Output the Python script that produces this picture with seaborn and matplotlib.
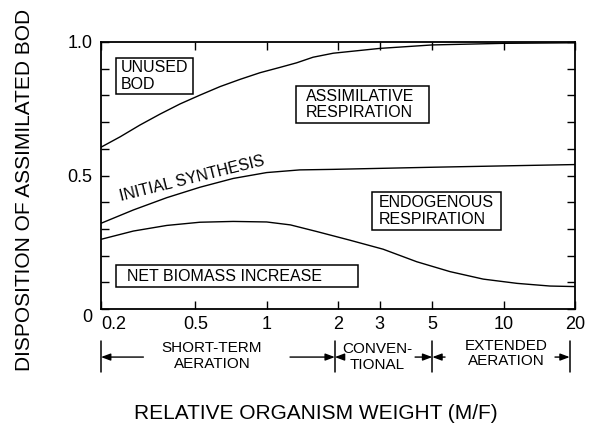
import matplotlib
matplotlib.use('Agg')
import matplotlib.pyplot as plt
import matplotlib.patches as mpatches
import seaborn as sns
import numpy as np

# curve data (x = relative organism weight M/F)
unused_x = [0.2, 0.241, 0.292, 0.355, 0.431, 0.523, 0.636, 0.772, 0.938, 1.139, 1.338, 1.57, 1.91, 3, 5, 10, 20]
unused_y = [0.606, 0.645, 0.689, 0.730, 0.768, 0.801, 0.833, 0.860, 0.885, 0.905, 0.922, 0.943, 0.958, 0.976, 0.989, 0.995, 0.997]

synth_x = [0.2, 0.274, 0.379, 0.523, 0.723, 1.0, 1.38, 1.91, 5.04, 10, 20]
synth_y = [0.321, 0.371, 0.417, 0.456, 0.489, 0.511, 0.521, 0.523, 0.531, 0.536, 0.541]

biomass_x = [0.2, 0.274, 0.379, 0.523, 0.723, 1.0, 1.26, 1.63, 2.24, 3.1, 4.3, 5.94, 8.2, 11.4, 15.7, 20]
biomass_y = [0.261, 0.292, 0.313, 0.325, 0.328, 0.326, 0.315, 0.29, 0.258, 0.224, 0.177, 0.140, 0.112, 0.096, 0.086, 0.084]

xticks = [0.2, 0.5, 1, 2, 3, 5, 10, 20]
xtick_labels = ['0.2', '0.5', '1', '2', '3', '5', '10', '20']
yticks = [0, 0.1, 0.2, 0.3, 0.4, 0.5, 0.6, 0.7, 0.8, 0.9, 1.0]
ytick_labels = ['0', '', '', '', '', '0.5', '', '', '', '', '1.0']

regimes = ['SHORT-TERM\nAERATION', 'CONVEN-\nTIONAL', 'EXTENDED\nAERATION']

sns.set_theme(style='ticks')
plt.rcParams['font.family'] = ['Liberation Sans', 'DejaVu Sans']

fig = plt.figure(figsize=(5.99, 4.29), dpi=100)
ax = fig.add_axes([0.1686, 0.2797, 0.7913, 0.6224])

for xs, ys in [(unused_x, unused_y), (synth_x, synth_y), (biomass_x, biomass_y)]:
    sns.lineplot(x=xs, y=ys, ax=ax, color='black', lw=1.0, sort=False)

ax.set_xscale('log')
ax.set_xlim(0.2, 20)
ax.set_ylim(0, 1)
ax.set_xticks(xticks)
ax.set_xticklabels(xtick_labels)
ax.minorticks_off()
ax.set_yticks(yticks)
ax.set_yticklabels(ytick_labels)
ax.tick_params(axis='both', direction='in', length=6, width=1, color='black',
               labelcolor='black', top=True, right=True)
ax.tick_params(axis='x', labelsize=13, pad=5)
ax.tick_params(axis='y', labelsize=13, pad=6)
for s in ax.spines.values():
    s.set_visible(True)
    s.set_color('black')
    s.set_linewidth(1.3)

xl = ax.get_xticklabels()
xl[0].set_ha('left')
yl = ax.get_yticklabels()
yl[0].set_va('top')

ax.set_xlabel('RELATIVE ORGANISM WEIGHT (M/F)', fontsize=15, color='black')
ax.set_ylabel('DISPOSITION OF ASSIMILATED BOD', fontsize=15, color='black')
ax.xaxis.set_label_coords(0.4536, -0.3895)
ax.xaxis.label.set_va('center')
ax.yaxis.set_label_coords(-0.162, 0.446)
ax.yaxis.label.set_va('center')

# boxed region labels
boxes = [
    ((0.0316, 0.805), 0.1624, 0.135, (0.0416, 0.873), 'UNUSED\nBOD'),
    ((0.411, 0.697), 0.281, 0.138, (0.4325, 0.766), 'ASSIMILATIVE\nRESPIRATION'),
    ((0.572, 0.296), 0.272, 0.142, (0.587, 0.367), 'ENDOGENOUS\nRESPIRATION'),
    ((0.0316, 0.082), 0.5104, 0.083, (0.0549, 0.1236), 'NET BIOMASS INCREASE'),
]
for (x0, y0), w, h, (tx, ty), txt in boxes:
    ax.add_patch(mpatches.Rectangle((x0, y0), w, h, transform=ax.transAxes,
                                    fill=False, ec='black', lw=1.1))
    ax.text(tx, ty, txt, transform=ax.transAxes, ha='left', va='center',
            fontsize=11.5, linespacing=1.1, color='black')

ax.text(0.192, 0.49, 'INITIAL SYNTHESIS', transform=ax.transAxes, rotation=14,
        rotation_mode='anchor', ha='center', va='center', fontsize=11.5, color='black')

# aeration regimes below the axis
trans = ax.get_xaxis_transform()
for bx in [0.2, 1.94, 5.0, 19.0]:
    ax.plot([bx, bx], [-0.12, -0.237], transform=trans, color='black', lw=1.1, clip_on=False)

arrows = [(0.302, 0.2), (1.255, 1.94), (2.06, 1.94), (4.23, 5.0), (5.66, 5.0), (16.47, 19.0)]
for tail, head in arrows:
    ax.annotate('', xy=(head, -0.18), xytext=(tail, -0.18), xycoords=trans, textcoords=trans,
                arrowprops=dict(arrowstyle='-|>,head_length=0.4,head_width=0.15',
                                color='black', lw=1, mutation_scale=14,
                                shrinkA=0, shrinkB=0), annotation_clip=False)

for txt, cx, cy in zip(regimes, [0.588, 2.92, 10.3], [-0.176, -0.18, -0.167]):
    ax.text(cx, cy, txt, transform=trans, ha='center', va='center', fontsize=11,
            linespacing=1.15, color='black')

fig.savefig('out.png', dpi=100)
